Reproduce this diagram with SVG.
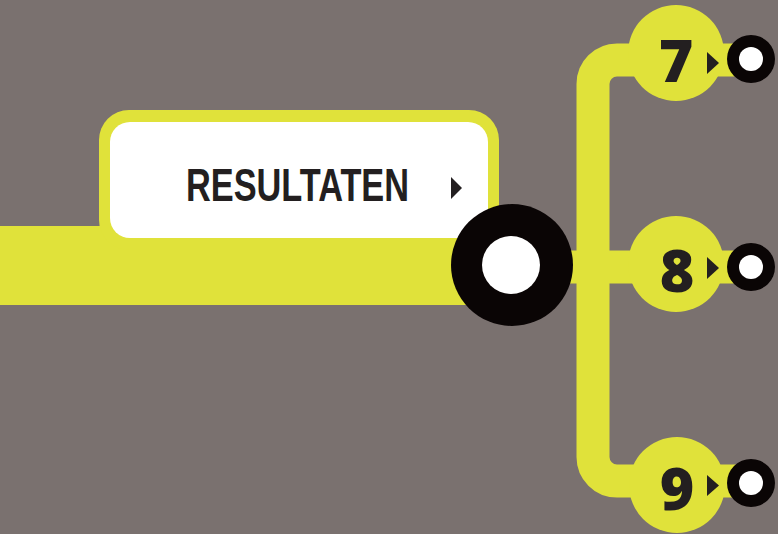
<svg xmlns="http://www.w3.org/2000/svg" width="778" height="534" viewBox="0 0 778 534">
<style>
.y{fill:#e0e23a}
.line{fill:none;stroke:#e0e23a;stroke-width:33}
.blk{fill:#0a0505}
.wht{fill:#ffffff}
.tri{fill:#231f20}
.num{font-family:"Open Sans","Liberation Sans",sans-serif;font-weight:800;font-size:59px;fill:#231f20;text-anchor:middle}
.lbl{font-family:"Liberation Sans","DejaVu Sans",sans-serif;font-weight:bold;font-size:47px;fill:#231f20}
</style>
<rect width="778" height="534" fill="#7a716f"/>
<g id="connectors">
<rect class="y" x="0" y="226" width="512" height="79"/>
<path class="line" d="M751 60 H617 A24 24 0 0 0 593 84 V457 A24 24 0 0 0 617 481 H751"/>
<path class="line" d="M512 267 H751"/>
</g>
<g id="resultaten">
<rect class="y" x="99" y="110" width="400" height="140" rx="30"/>
<rect class="wht" x="110" y="122" width="378" height="116" rx="20"/>
<text class="lbl" x="186" y="201" textLength="223" lengthAdjust="spacingAndGlyphs">RESULTATEN</text>
<polygon class="tri" points="451,177 462,188 451,199"/>
</g>
<g id="hub">
<circle class="blk" cx="512" cy="265" r="61"/>
<circle class="wht" cx="511" cy="265" r="29"/>
</g>
<g id="n7">
<circle class="y" cx="676" cy="53" r="48"/>
<text class="num" x="676" y="82">7</text>
<polygon class="tri" points="707,52 719,63 707,74"/>
<circle class="blk" cx="751" cy="59" r="24"/>
<circle class="wht" cx="751" cy="59" r="12"/>
</g>
<g id="n8">
<circle class="y" cx="676" cy="264" r="48"/>
<text class="num" x="677" y="292">8</text>
<polygon class="tri" points="707,257 719,268 707,279"/>
<circle class="blk" cx="751" cy="267" r="24"/>
<circle class="wht" cx="751" cy="267" r="12"/>
</g>
<g id="n9">
<circle class="y" cx="677" cy="485" r="48"/>
<text class="num" x="677" y="510">9</text>
<polygon class="tri" points="707,475 719,485.5 707,496"/>
<circle class="blk" cx="751" cy="483" r="24"/>
<circle class="wht" cx="751" cy="483" r="12"/>
</g>
</svg>
